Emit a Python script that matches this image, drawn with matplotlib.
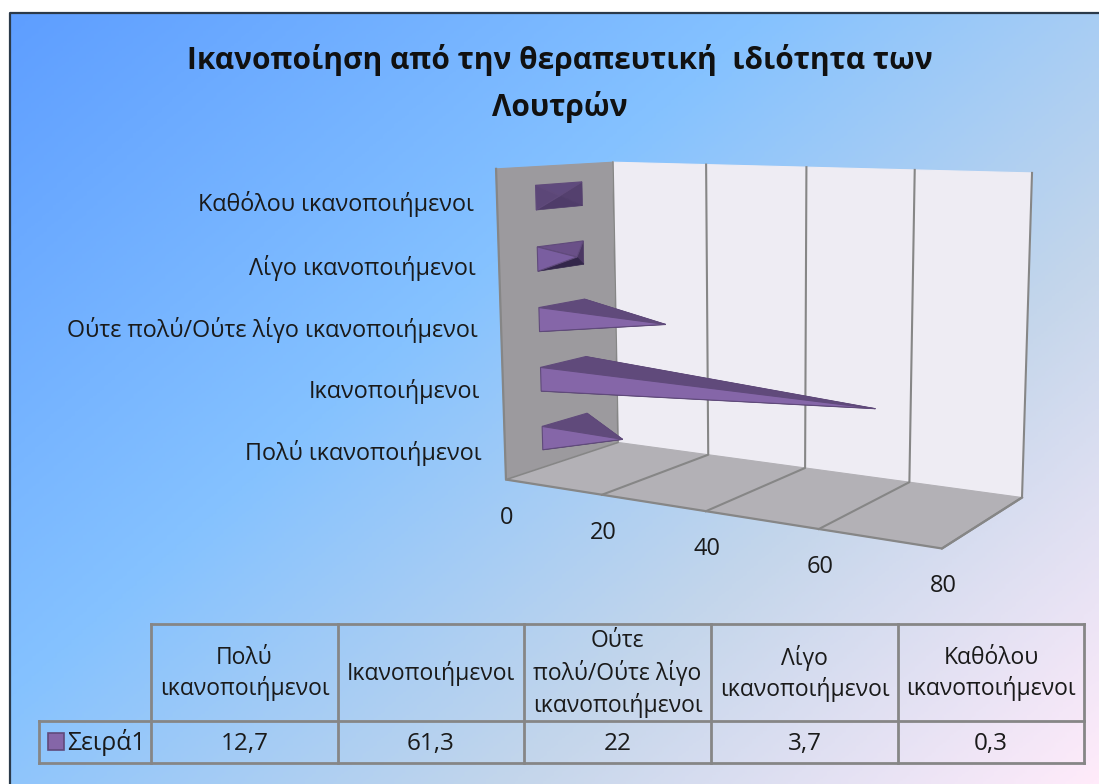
import numpy as np
import matplotlib
matplotlib.use('Agg')
import matplotlib.pyplot as plt
from matplotlib.colors import LinearSegmentedColormap
from matplotlib.patches import Polygon, Rectangle

plt.rcParams['font.family'] = ['Open Sans', 'DejaVu Sans']

title_lines = ['Ικανοποίηση από την θεραπευτική  ιδιότητα των', 'Λουτρών']
categories = ['Πολύ ικανοποιήμενοι', 'Ικανοποιήμενοι', 'Ούτε πολύ/Ούτε λίγο ικανοποιήμενοι',
              'Λίγο ικανοποιήμενοι', 'Καθόλου ικανοποιήμενοι']
table_heads = ['Πολύ\nικανοποιήμενοι', 'Ικανοποιήμενοι', 'Ούτε\nπολύ/Ούτε λίγο\nικανοποιήμενοι',
               'Λίγο\nικανοποιήμενοι', 'Καθόλου\nικανοποιήμενοι']
series_name = 'Σειρά1'
values = [12.7, 61.3, 22, 3.7, 0.3]
x_ticks = [0, 20, 40, 60, 80]

# box corners on screen, (value, height, depth) -> pixel, depth 0 is the front
box_3d = [(0, 1, 0), (0, 1, 1), (0, 0, 0), (0, 0, 1), (80, 1, 1), (80, 0, 1), (80, 0, 0)]
box_px = [(496, 169), (613, 162), (506, 479), (618, 443), (1032, 173), (1022, 497), (942, 549)]

# solve the camera from the corners
rows = []
for (a, b, c), (u, v) in zip(box_3d, box_px):
    rows.append([a, b, c, 1, 0, 0, 0, 0, -u * a, -u * b, -u * c, -u])
    rows.append([0, 0, 0, 0, a, b, c, 1, -v * a, -v * b, -v * c, -v])
cam = np.linalg.svd(np.array(rows, dtype=float))[2][-1].reshape(3, 4)


def project(val, h, d):
    p = cam @ np.array([val, h, d, 1.0])
    return p[0] / p[2], p[1] / p[2]


fig = plt.figure(figsize=(10.99, 7.84), dpi=100)
ax = fig.add_axes([0, 0, 1, 1])
ax.set_xlim(0, 1099)
ax.set_ylim(784, 0)
ax.axis('off')

# background gradient
cmap = LinearSegmentedColormap.from_list('daybreak', [(0, '#5E9EFF'), (0.39, '#85C2FF'),
                                                      (0.70, '#C4D6EB'), (1, '#FFEBFA')])
xx, yy = np.meshgrid(np.linspace(0, 1, 300), np.linspace(0, 1, 300))
ax.imshow(0.56 * xx + 0.44 * yy, cmap=cmap, extent=(10, 1099, 784, 13), aspect='auto', vmin=0, vmax=1, zorder=0)
ax.set_xlim(0, 1099)
ax.set_ylim(784, 0)
ax.plot([10, 10, 1099], [784, 13, 13], color='#2b3a4a', lw=1.6, zorder=1)

# title
ax.text(560, 60, title_lines[0], fontsize=21.5, fontweight='bold', ha='center', va='center', color='#111111')
ax.text(560, 107, title_lines[1], fontsize=21.5, fontweight='bold', ha='center', va='center', color='#111111')


def face(pts, color, edge=None, z=2, lw=0.8):
    ax.add_patch(Polygon(pts, closed=True, facecolor=color, edgecolor=edge or color, lw=lw, zorder=z))


line_c = '#868686'
# walls
face([project(0, 0, 0), project(0, 1, 0), project(0, 1, 1), project(0, 0, 1)], '#9C9A9E')
face([project(0, 0, 1), project(0, 1, 1), project(80, 1, 1), project(80, 0, 1)], '#EEECF3')
face([project(0, 0, 0), project(0, 0, 1), project(80, 0, 1), project(80, 0, 0)], '#B3B1B6')
for t in x_ticks[1:]:
    p0, p1, p2 = project(t, 0, 0), project(t, 0, 1), project(t, 1, 1)
    ax.plot([p0[0], p1[0], p2[0]], [p0[1], p1[1], p2[1]], color=line_c, lw=1.5, zorder=3)
edge_path = [project(0, 1, 0), project(0, 0, 0), project(80, 0, 0), project(80, 0, 1)]
ax.plot([p[0] for p in edge_path], [p[1] for p in edge_path], color=line_c, lw=1.6, zorder=3)
p0, p1, p2 = project(0, 0, 0), project(0, 0, 1), project(0, 1, 1)
ax.plot([p0[0], p1[0], p2[0]], [p0[1], p1[1], p2[1]], color=line_c, lw=1.2, zorder=3)

# pyramid bars: back, bottom, top, front face colours
bar_colors = [('#4B3763', '#3A2A50', '#604A7B', '#8566A8'),
              ('#4B3763', '#3A2A50', '#604A7B', '#8566A8'),
              ('#4B3763', '#3A2A50', '#604A7B', '#8566A8'),
              ('#4B3763', '#33264A', '#6A5088', '#7A5EA0'),
              ('#54406E', '#4F3C69', '#5F4A7D', '#5C4778')]
band = 1 / len(values)
for i, v in enumerate(values):
    h0 = (i + 0.3) * band
    h1 = (i + 0.7) * band
    d0, d1 = 0.31, 0.71
    tip = project(v, (h0 + h1) / 2, 0.5)
    fa, fb, ft, ff = bar_colors[i]
    face([project(0, h0, d1), project(0, h1, d1), tip], fa, z=4, lw=0.5)
    face([project(0, h0, d0), project(0, h0, d1), tip], fb, z=4, lw=0.5)
    face([project(0, h1, d0), project(0, h1, d1), tip], ft, edge='#604A7B', z=4, lw=0.8)
    face([project(0, h0, d0), project(0, h1, d0), tip], ff, edge='#604A7B', z=4, lw=0.8)

# axis labels
label_fs = 16.8
for i, name in enumerate(categories):
    x, y = project(0, (i + 0.5) * band, 0)
    ax.text(x - 23, y + 3, name, fontsize=label_fs, ha='right', va='center', color='#1a1a1a', zorder=5)
for t in x_ticks:
    x, y = project(t, 0, 0)
    ax.text(x + 1, y + 38, str(t), fontsize=17, ha='center', va='center', color='#1a1a1a', zorder=5)

# data table
col_edges = [151, 338, 524, 711, 898, 1084]
top, mid, bot = 624, 721, 763
left = 39
for x in col_edges:
    ax.plot([x, x], [top, bot], color=line_c, lw=2, zorder=3)
ax.plot([151, 1084], [top, top], color=line_c, lw=2, zorder=3)
ax.plot([left, 1084], [mid, mid], color=line_c, lw=2, zorder=3)
ax.plot([left, 1084], [bot, bot], color=line_c, lw=2, zorder=3)
ax.plot([left, left], [mid, bot], color=line_c, lw=2, zorder=3)
table_fs = 16.5
for i, head in enumerate(table_heads):
    cx = (col_edges[i] + col_edges[i + 1]) / 2
    ax.text(cx, (top + mid) / 2 + 1, head, fontsize=table_fs, ha='center', va='center', color='#1a1a1a',
            linespacing=1.36, zorder=5)
    ax.text(cx, (mid + bot) / 2 + 2, str(values[i]).replace('.', ','), fontsize=17.5, ha='center', va='center',
            color='#1a1a1a', zorder=5)
ax.add_patch(Rectangle((48, 733), 16, 17, facecolor='#8566A8', edgecolor='#604A7B', lw=1.2, zorder=4))
ax.text(67, (mid + bot) / 2 + 1, series_name, fontsize=17.8, ha='left', va='center', color='#1a1a1a', zorder=5)

fig.savefig('out.png', dpi=100, facecolor='white')
